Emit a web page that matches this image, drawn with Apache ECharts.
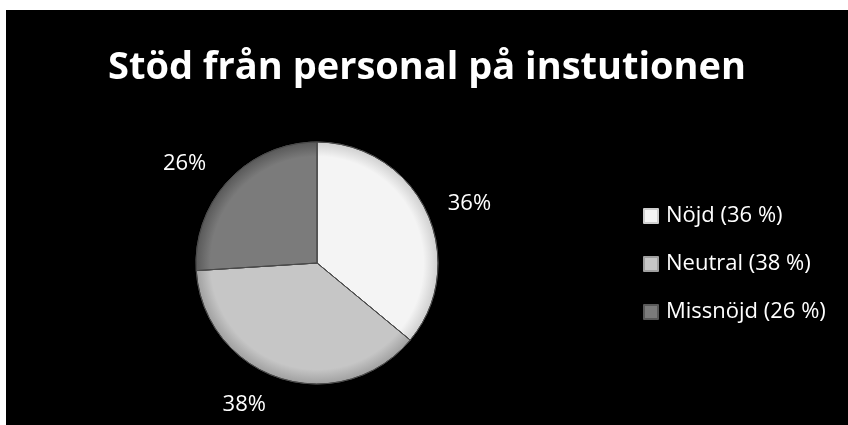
<!DOCTYPE html>
<html>
<head>
<meta charset="utf-8">
<script src="https://cdn.jsdelivr.net/npm/echarts@6/dist/echarts.min.js"></script>
<style>
  html, body { margin: 0; padding: 0; background: #fff; }
  #main { position: absolute; left: 6px; top: 10px; width: 842px; height: 415px; background: #000; }
</style>
</head>
<body>
<div id="main"></div>
<script>
// data
var categories = ['Nöjd', 'Neutral', 'Missnöjd'];
var values = [36, 38, 26];
var innerColors = ['#f4f4f4', '#c6c6c6', '#7b7b7b'];
var outerColors = ['#cfcfcf', '#a0a0a0', '#595959'];
var labelGaps = [18, 28, 24];

var cx = 311, cy = 253, rad = 121;

var myChart = echarts.init(document.getElementById('main'));

var pieData = categories.map(function (name, i) {
    return {
        name: name,
        value: values[i],
        labelLine: { show: false, length: labelGaps[i], length2: 0 },
        itemStyle: {
            color: {
                type: 'radial', x: cx, y: cy, r: rad, global: true,
                colorStops: [
                    { offset: 0, color: innerColors[i] },
                    { offset: 0.88, color: innerColors[i] },
                    { offset: 1, color: outerColors[i] }
                ]
            }
        }
    };
});

var legendData = categories.map(function (name, i) {
    return {
        name: name,
        itemStyle: {
            color: innerColors[i],
            borderColor: outerColors[i],
            borderWidth: 2
        }
    };
});

var option = {
    backgroundColor: '#000',
    title: {
        text: 'Stöd från personal på instutionen',
        left: 'center',
        top: 34,
        textStyle: {
            color: '#fff',
            fontFamily: 'Open Sans',
            fontWeight: 'bold',
            fontSize: 38
        }
    },
    legend: {
        orient: 'vertical',
        left: 632,
        top: 187,
        itemGap: 20,
        icon: 'rect',
        itemWidth: 14,
        itemHeight: 14,
        data: legendData,
        textStyle: {
            color: '#fff',
            fontFamily: 'Open Sans',
            fontSize: 22,
            lineHeight: 28,
            padding: [0, 0, 0, 3]
        },
        formatter: function (name) {
            var i = categories.indexOf(name);
            return name + ' (' + values[i] + ' %)';
        }
    },
    series: [
        {
            type: 'pie',
            center: [cx, cy],
            radius: rad,
            startAngle: 90,
            clockwise: true,
            data: pieData,
            itemStyle: {
                borderColor: '#4a4a4a',
                borderWidth: 1
            },
            label: {
                show: true,
                position: 'outside',
                formatter: '{d}%',
                color: '#fff',
                fontFamily: 'Open Sans',
                fontSize: 22
            },
            labelLine: {
                show: false,
                length: 18,
                length2: 0
            },
            emphasis: { disabled: true }
        }
    ]
};

myChart.setOption(option);
window.addEventListener('resize', function () {
    myChart.resize();
});
</script>
</body>
</html>
